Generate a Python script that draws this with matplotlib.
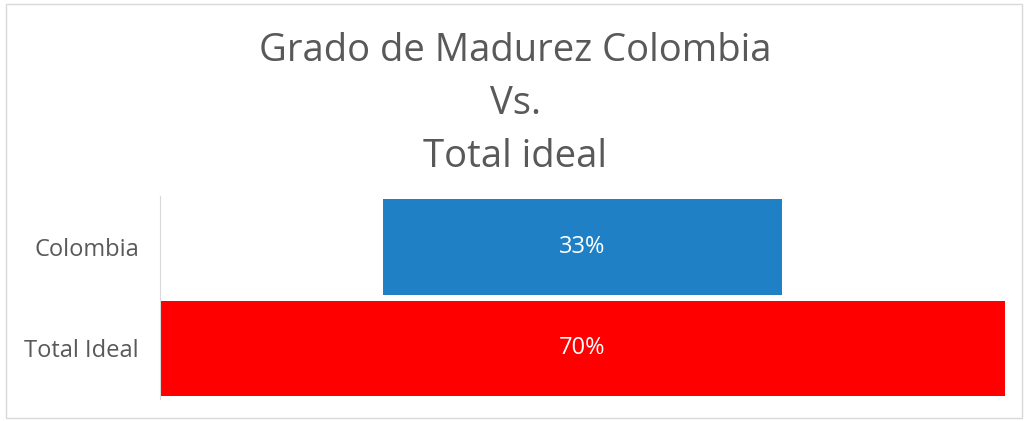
import matplotlib.pyplot as plt
from matplotlib.patches import Rectangle

# Data
categories = ['Colombia', 'Total Ideal']
values = [33, 70]
labels = ['33%', '70%']
colors = ['#1F80C6', '#FF0000']

total = max(values)
lefts = [(total - v) / 2 for v in values]

fig = plt.figure(figsize=(10.28, 4.21), dpi=100)
ax = fig.add_axes([0.1556, 0.052, 0.822, 0.482])

ax.barh(range(len(categories)), values, left=lefts, height=0.94, color=colors)
for i, (l, v, t) in enumerate(zip(lefts, values, labels)):
    ax.text(l + v / 2, i, t, ha='center', va='center', color='white',
            fontsize=17, family='Open Sans')

ax.set_xlim(0, total)
ax.set_ylim(1.5, -0.5)
ax.set_yticks(range(len(categories)))
ax.set_yticklabels(categories, fontsize=17, color='#595959', family='Open Sans')
ax.tick_params(axis='y', length=0, pad=15)
ax.set_xticks([])
for s in ['top', 'right', 'bottom']:
    ax.spines[s].set_visible(False)
ax.spines['left'].set_color('#D9D9D9')

# Title
fig.text(0.501, 0.752, 'Grado de Madurez Colombia\nVs.\nTotal ideal',
         ha='center', va='center', fontsize=27.5, color='#595959',
         family='Open Sans', linespacing=1.52)

# Chart border
fig.patches.append(Rectangle((0.006, 0.008), 0.988, 0.982, transform=fig.transFigure,
                             fill=False, edgecolor='#D9D9D9', linewidth=1))

fig.savefig('out.png', dpi=100)
